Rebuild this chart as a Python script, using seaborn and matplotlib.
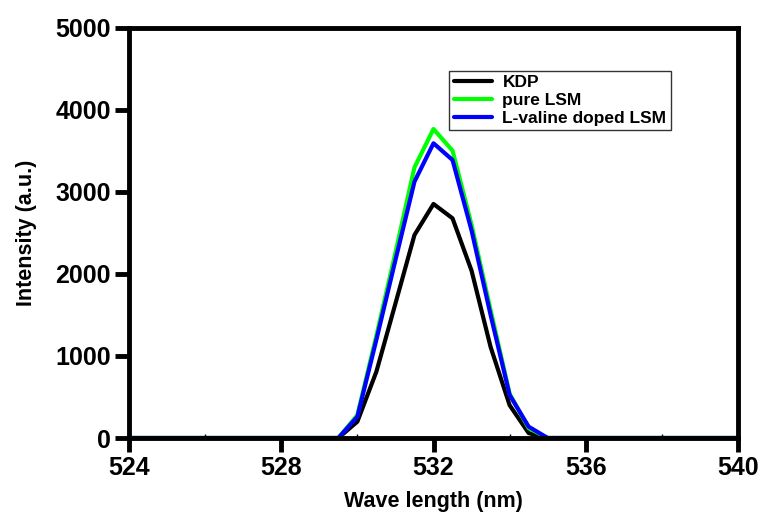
import seaborn as sns
import pandas as pd
import matplotlib.pyplot as plt
from matplotlib.ticker import MultipleLocator

wavelength = [524, 529.5, 530, 530.5, 531, 531.5, 532, 532.5, 533, 533.5, 534, 534.5, 535, 540]
kdp = [0, 0, 200, 810, 1640, 2476, 2854, 2679, 2040, 1110, 400, 60, 0, 0]
pure_lsm = [0, 0, 280, 1250, 2260, 3300, 3768, 3504, 2600, 1560, 540, 120, 0, 0]
lvaline_lsm = [0, 0, 260, 1200, 2170, 3126, 3594, 3390, 2530, 1500, 524, 138, 0, 0]

labels = ['KDP', 'pure LSM', 'L-valine doped LSM']
colors = ['black', '#00ff00', '#0000ff']

df = pd.concat([
    pd.DataFrame({'wavelength': wavelength, 'intensity': vals, 'sample': name})
    for name, vals in zip(labels, [kdp, pure_lsm, lvaline_lsm])
])

sns.set_style('ticks', {'axes.edgecolor': 'black', 'text.color': 'black',
                        'axes.labelcolor': 'black', 'xtick.color': 'black',
                        'ytick.color': 'black'})
plt.rcParams['font.family'] = ['Liberation Sans', 'DejaVu Sans']
plt.rcParams['font.weight'] = 'bold'

fig = plt.figure(figsize=(7.61, 5.21), dpi=100)
ax = fig.add_axes([0.1695, 0.1593, 0.8003, 0.787])

sns.lineplot(data=df, x='wavelength', y='intensity', hue='sample',
             hue_order=labels, palette=colors, linewidth=3, ax=ax, sort=False)

ax.set_xlim(524, 540)
ax.set_ylim(0, 5000)
ax.xaxis.set_major_locator(MultipleLocator(4))
ax.xaxis.set_minor_locator(MultipleLocator(2))
ax.yaxis.set_major_locator(MultipleLocator(1000))

ax.set_xlabel('Wave length (nm)', fontsize=15.5, fontweight='bold', labelpad=8)
ax.set_ylabel('Intensity (a.u.)', fontsize=15.5, fontweight='bold', labelpad=13)

for sp in ax.spines.values():
    sp.set_linewidth(3.5)
    sp.set_visible(True)
ax.tick_params(axis='both', which='major', direction='out', length=10, width=3.5,
               labelsize=18, pad=3)
ax.tick_params(axis='x', which='minor', direction='in', length=3, width=1)
for lbl in ax.get_xticklabels() + ax.get_yticklabels():
    lbl.set_fontweight('bold')

leg = ax.legend(loc='upper left', bbox_to_anchor=(0.512, 0.917), fontsize=12.5,
                frameon=True, fancybox=False, edgecolor='black',
                handlelength=2.2, handletextpad=0.6, borderpad=0.25,
                labelspacing=0.15)
leg.get_frame().set_linewidth(1)
for t in leg.get_texts():
    t.set_fontweight('bold')

fig.savefig('out.png', dpi=100)
